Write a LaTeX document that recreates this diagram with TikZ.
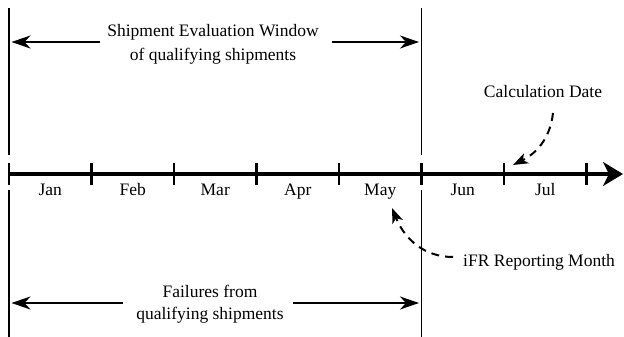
\documentclass[tikz,border=0pt]{standalone}
\usepackage{fontspec}
\setmainfont{Liberation Serif}
\usetikzlibrary{arrows.meta,calc}
\begin{document}
\begin{tikzpicture}[x=1pt,y=-1pt,
  lbl/.style={font=\fontsize{17.5}{22}\selectfont, inner sep=0pt, align=center},
  vline/.style={line width=1.6pt},
  span/.style={line width=2pt, shorten >=2.5pt, -{Stealth[length=19pt,width=13pt,inset=6pt]}},
  axis/.style={line width=3.2pt, -{Stealth[length=20pt,width=24pt,inset=6pt]}},
  tickmark/.style={line width=2.6pt},
  callout/.style={line width=2pt, dash pattern=on 8pt off 6pt, -{Stealth[length=15pt,width=11pt,inset=4pt]}}]
\useasboundingbox (0,0) rectangle (624,337);

% ticks
\foreach \i in {0,...,7} {
  \coordinate (t\i) at ({9+82.5*\i},174);
}
\coordinate (axend) at (623,174);
\draw[axis] (t0) -- (axend);
\foreach \i in {0,...,7} {
  \draw[tickmark] ($(t\i)+(0,-11)$) -- ($(t\i)+(0,11)$);
}

% vertical boundary lines
\coordinate (vLtop) at (9,8);
\coordinate (vLbot) at (9,337);
\coordinate (vRtop) at (421.5,8);
\coordinate (vRbot) at (421.5,337);
\draw[vline] (vLtop) -- ($(t0)+(0,-19)$);
\draw[vline] ($(t0)+(0,16)$) -- (vLbot);
\draw[vline] (vRtop) -- ($(t5)+(0,-19)$);
\draw[vline] ($(t5)+(0,16)$) -- (vRbot);

% month labels
\foreach \m [count=\k from 0] in {Jan,Feb,Mar,Apr,May,Jun,Jul} {
  \node[lbl, anchor=base] (m\k) at ({50.25+82.5*\k},195) {\m};
}

% top window
\node[lbl, anchor=base] (win1) at (213,37) {Shipment Evaluation Window};
\node[lbl, anchor=base] (win2) at (213,60) {of qualifying shipments};
\coordinate (wa) at (100,42);
\coordinate (wb) at (332,42);
\draw[span] (wa) -- (wa -| vLtop);
\draw[span] (wb) -- (wb -| vRtop);

% bottom window
\node[lbl, anchor=base] (fail1) at (210,297) {Failures from};
\node[lbl, anchor=base] (fail2) at (210,319) {qualifying shipments};
\coordinate (fa) at (123,303);
\coordinate (fb) at (293,303);
\draw[span] (fa) -- (fa -| vLbot);
\draw[span] (fb) -- (fb -| vRbot);

% calculation date
\node[lbl, anchor=base] (calc) at (543,98) {Calculation Date};
\coordinate (cs) at (553,113);
\coordinate (ce) at (513,165);
\draw[callout] (cs) .. controls (550,140) and (535,154) .. (ce);

% iFR reporting month
\node[lbl, anchor=base west] (ifr) at (463,266) {iFR Reporting Month};
\coordinate (is) at (453,257);
\coordinate (ie) at (392,208);
\draw[callout] (is) .. controls (425,257) and (405,240) .. (ie);
\end{tikzpicture}
\end{document}
